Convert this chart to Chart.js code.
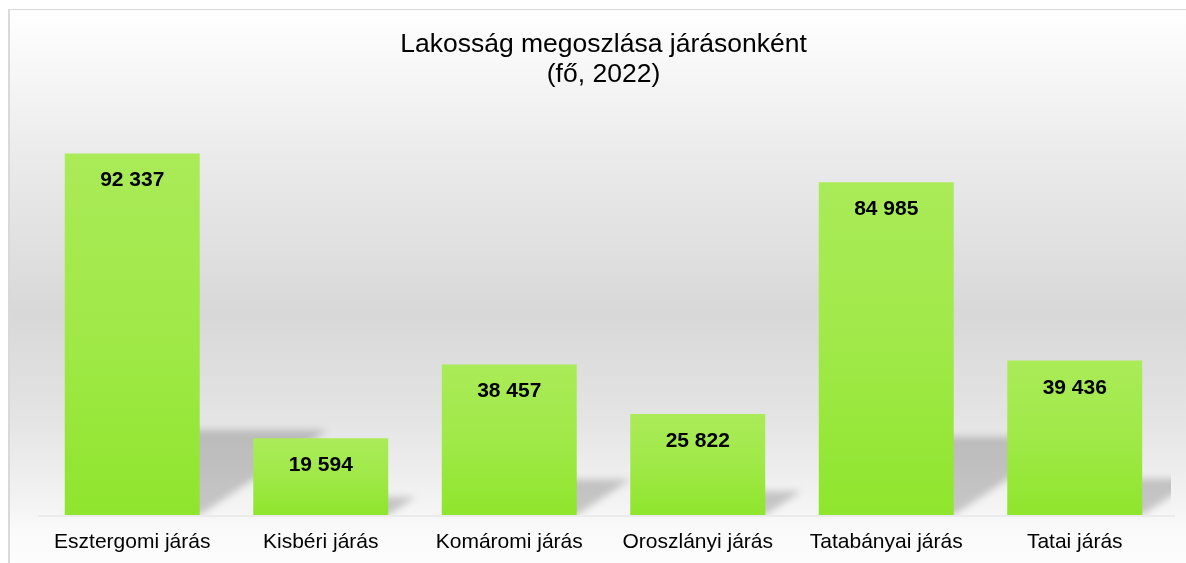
<!DOCTYPE html>
<html>
<head>
<meta charset="utf-8">
<script src="https://cdn.jsdelivr.net/npm/chart.js@4"></script>
<style>
  html, body { margin: 0; padding: 0; overflow: hidden; background: #ffffff; }
  #wrap { width: 1206px; height: 563px; }
</style>
</head>
<body>
<div id="wrap"><canvas id="c" width="1206" height="563"></canvas></div>
<script>
const categories = ['Esztergomi járás', 'Kisbéri járás', 'Komáromi járás', 'Oroszlányi járás', 'Tatabányai járás', 'Tatai járás'];
const population = [92337, 19594, 38457, 25822, 84985, 39436];
const titleLines = ['Lakosság megoszlása járásonként', '(fő, 2022)'];
const yMin = 0;
const yMax = 100000;

function fmt(n) {
  return String(n).replace(/\B(?=(\d{3})+(?!\d))/g, ' ');
}

const FONT = "'Liberation Sans', Arial, sans-serif";

const backgroundPlugin = {
  id: 'bgFrame',
  beforeDraw(chart) {
    const ctx = chart.ctx;
    ctx.save();
    const g = ctx.createLinearGradient(0, 9, 0, 563);
    g.addColorStop(0.00, '#ffffff');
    g.addColorStop(0.25, '#ececec');
    g.addColorStop(0.55, '#d8d8d8');
    g.addColorStop(0.74, '#e4e4e4');
    g.addColorStop(0.90, '#f4f4f4');
    g.addColorStop(0.94, '#fafafa');
    g.addColorStop(1.00, '#fcfcfc');
    ctx.fillStyle = g;
    ctx.fillRect(9, 9, chart.width, chart.height);
    ctx.fillStyle = '#d9d9d9';
    ctx.fillRect(8, 9, 2, chart.height);
    ctx.fillRect(8, 9, chart.width, 1);
    ctx.restore();
  }
};

const shadowPlugin = {
  id: 'barShadow',
  beforeDatasetsDraw(chart) {
    const ctx = chart.ctx;
    const meta = chart.getDatasetMeta(0);
    const area = chart.chartArea;
    ctx.save();
    // floor line
    ctx.fillStyle = '#ebebeb';
    ctx.fillRect(area.left, area.bottom, 1175 - area.left, 2);
    ctx.beginPath();
    ctx.rect(0, 0, 1171, area.bottom);
    ctx.clip();
    ctx.filter = 'blur(3.5px)';
    ctx.fillStyle = 'rgba(0,0,0,0.19)';
    meta.data.forEach(bar => {
      const h = bar.base - bar.y;
      const dy = h * 0.235;
      const dx = dy * 1.5;
      const x0 = bar.x - bar.width / 2;
      const x1 = bar.x + bar.width / 2;
      ctx.beginPath();
      ctx.moveTo(x0, bar.base);
      ctx.lineTo(x1, bar.base);
      ctx.lineTo(x1 + dx, bar.base - dy);
      ctx.lineTo(x0 + dx, bar.base - dy);
      ctx.closePath();
      ctx.fill();
    });
    ctx.restore();
  }
};

const valueLabelPlugin = {
  id: 'valueLabels',
  afterDatasetsDraw(chart) {
    const ctx = chart.ctx;
    const meta = chart.getDatasetMeta(0);
    ctx.save();
    ctx.font = "bold 21px " + FONT;
    ctx.fillStyle = '#000000';
    ctx.textAlign = 'center';
    ctx.textBaseline = 'alphabetic';
    meta.data.forEach((bar, i) => {
      ctx.fillText(fmt(population[i]), bar.x, bar.y + 33);
    });
    ctx.restore();
  }
};

new Chart(document.getElementById('c'), {
  type: 'bar',
  data: {
    labels: categories,
    datasets: [{
      data: population,
      backgroundColor(context) {
        const chart = context.chart;
        const ys = chart.scales && chart.scales.y;
        if (!ys || context.dataIndex === undefined) return '#9de841';
        const top = ys.getPixelForValue(population[context.dataIndex]);
        const base = ys.getPixelForValue(0);
        if (!isFinite(top) || !isFinite(base) || top === base) return '#9de841';
        const g = chart.ctx.createLinearGradient(0, top, 0, base);
        g.addColorStop(0, '#aaeb58');
        g.addColorStop(0.5, '#a0e948');
        g.addColorStop(1, '#8fe52d');
        return g;
      },
      borderWidth: 0,
      barPercentage: 0.716,
      categoryPercentage: 1.0
    }]
  },
  options: {
    responsive: false,
    animation: false,
    devicePixelRatio: 1,
    layout: { padding: { left: 38, right: 37, top: 0, bottom: 0 } },
    plugins: {
      legend: { display: false },
      tooltip: { enabled: false },
      title: {
        display: true,
        text: titleLines,
        color: '#000000',
        font: { family: FONT, size: 26.5, weight: 'normal', lineHeight: 1.16 },
        padding: { top: 29, bottom: 33 }
      }
    },
    scales: {
      x: {
        grid: { display: false, drawTicks: false },
        border: { display: false },
        ticks: {
          color: '#000000',
          font: { family: FONT, size: 21 },
          padding: 15,
          maxRotation: 0,
          autoSkip: false
        },
        afterFit(scale) { scale.height = 48; }
      },
      y: {
        display: false,
        min: yMin,
        max: yMax
      }
    }
  },
  plugins: [backgroundPlugin, shadowPlugin, valueLabelPlugin]
});
</script>
</body>
</html>
